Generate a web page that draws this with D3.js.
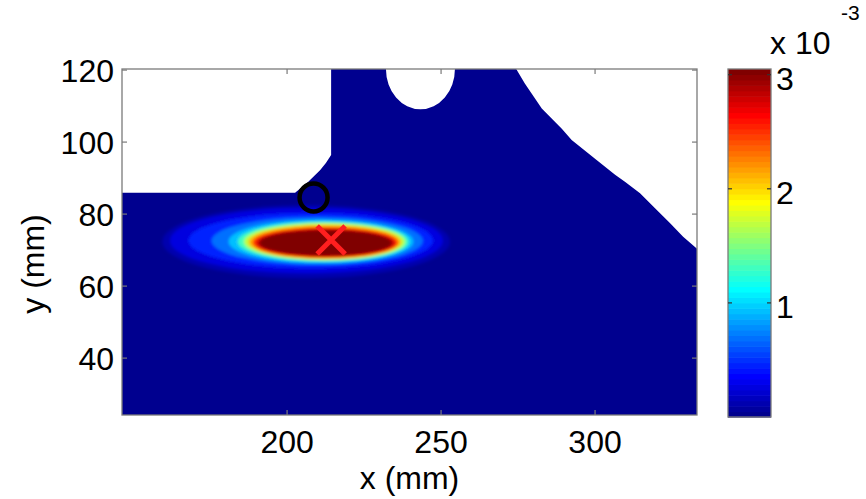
<!DOCTYPE html>
<html>
<head>
<meta charset="utf-8">
<script src="https://cdn.jsdelivr.net/npm/d3@7"></script>
<style>
  body { margin: 0; background: #fff; }
  text { font-family: "Liberation Sans", Arial, sans-serif; fill: #000; }
</style>
</head>
<body>
<svg id="chart" width="866" height="499"></svg>
<script>
// ---- data (mm, values in units of 1e-3) ----
const xTicks = [200, 250, 300];
const yTicks = [40, 60, 80, 100, 120];
const colorTicks = [1, 2, 3];
const xExtent = [146.4, 333.1];
const yExtent = [24.2, 120.3];
const colorMax = 3.05;

// geometry of the solved domain
const shelfY = 85.9;                       // top of the left shelf
const wallX = 214.3;                       // vertical wall above the shelf
const cornerEdge = [[202.6, 85.9], [206.8, 88.9], [210.7, 92.2], [212.6, 94.2], [214.3, 96.4]];
const holeX = 243.3, holeR = 11.2;         // semicircular cut in the top edge
const slopeEdge = [[274.4, 120.3], [277.2, 116.3], [279.4, 113.5], [282.7, 109.3], [289.2, 103.7],
                   [292.4, 100.6], [300.5, 95.0], [306.5, 90.9], [309.7, 89.0], [314.6, 85.8],
                   [318.9, 82.1], [324.3, 77.5], [328.6, 73.7], [333.1, 70.4]];

// iso-level extents of the field
const levelValues = [0.1, 0.25, 0.45, 0.7, 0.95, 1.3, 1.7, 2.1, 2.5, 2.8, 3.1];
const levelX0 = [159.5, 162.0, 168.0, 175.5, 181.0, 184.0, 186.0, 187.5, 188.8, 190.0, 191.0];
const levelX1 = [252.9, 250.6, 247.4, 244.1, 241.0, 239.5, 238.3, 237.0, 236.0, 235.0, 234.0];
const levelY0 = [62.2, 63.6, 65.0, 65.9, 66.4, 66.8, 67.2, 67.5, 67.8, 68.1, 68.4];
const levelY1 = [82.5, 81.7, 80.3, 79.2, 78.4, 77.9, 77.5, 77.0, 76.4, 75.9, 75.6];

const sourceMark = [208.6, 84.6];   // circle
const peakMark = [214.3, 72.8];     // cross

// ---- jet(64) colormap ----
function jetTable(n) {
  const m = Math.ceil(n / 4);
  const u = [];
  for (let k = 1; k <= m; k++) u.push(k / m);
  for (let k = 0; k < m - 1; k++) u.push(1);
  for (let k = m; k >= 1; k--) u.push(k / m);
  const g0 = Math.ceil(n / 8) - (n % 4 === 1 ? 1 : 0);
  const at = k => (k >= 1 && k <= u.length) ? u[k - 1] : 0;
  const out = [];
  for (let i = 1; i <= n; i++) {
    const r = at(i - g0 - m), gg = at(i - g0), b = at(i - g0 + m);
    out.push(d3.rgb(r * 255, gg * 255, b * 255).formatHex());
  }
  return out;
}
const jet = jetTable(64);
const colorOf = v => jet[Math.max(0, Math.min(63, Math.floor(v / colorMax * 64)))];

// ---- layout ----
const svg = d3.select("#chart");
const plot = { left: 122, right: 697, top: 69, bottom: 415 };
const x = d3.scaleLinear().domain(xExtent).range([plot.left, plot.right]);
const y = d3.scaleLinear().domain(yExtent).range([plot.bottom, plot.top]);

// domain outline
function domainPath() {
  const p = d3.path();
  p.moveTo(x(xExtent[0]), y(yExtent[0]));
  p.lineTo(x(xExtent[0]), y(shelfY));
  cornerEdge.forEach(([a, b]) => p.lineTo(x(a), y(b)));
  p.lineTo(x(wallX), y(yExtent[1]));
  p.lineTo(x(holeX - holeR), y(yExtent[1]));
  const rx = x(holeX + holeR) - x(holeX), ry = y(yExtent[1] - holeR) - y(yExtent[1]);
  return p.toString() +
    `A${rx},${ry} 0 0 0 ${x(holeX + holeR)},${y(yExtent[1])}` +
    slopeEdge.map(([a, b]) => `L${x(a)},${y(b)}`).join("") +
    `L${x(xExtent[1])},${y(yExtent[0])}Z`;
}

const defs = svg.append("defs");
defs.append("clipPath").attr("id", "domain").append("path").attr("d", domainPath());
defs.append("filter").attr("id", "soft").attr("x", "-20%").attr("y", "-40%")
  .attr("width", "140%").attr("height", "180%")
  .append("feGaussianBlur").attr("stdDeviation", 1.6);

const field = svg.append("g").attr("clip-path", "url(#domain)");
field.append("rect")
  .attr("x", plot.left).attr("y", plot.top)
  .attr("width", plot.right - plot.left).attr("height", plot.bottom - plot.top)
  .attr("fill", jet[0]);

const blob = field.append("g").attr("filter", "url(#soft)");
blob.selectAll("ellipse").data(levelValues).join("ellipse")
  .attr("cx", (d, i) => (x(levelX0[i]) + x(levelX1[i])) / 2)
  .attr("cy", (d, i) => (y(levelY0[i]) + y(levelY1[i])) / 2)
  .attr("rx", (d, i) => (x(levelX1[i]) - x(levelX0[i])) / 2)
  .attr("ry", (d, i) => (y(levelY0[i]) - y(levelY1[i])) / 2)
  .attr("fill", d => colorOf(d));

// markers
svg.append("circle")
  .attr("cx", x(sourceMark[0])).attr("cy", y(sourceMark[1])).attr("r", 14)
  .attr("fill", "none").attr("stroke", "#000").attr("stroke-width", 4.5);
const cx = x(peakMark[0]), cy = y(peakMark[1]);
svg.append("path")
  .attr("d", `M${cx - 14},${cy - 14}L${cx + 14},${cy + 14}M${cx - 14},${cy + 14}L${cx + 14},${cy - 14}`)
  .attr("stroke", "#ff1f1f").attr("stroke-width", 5).attr("fill", "none");

// axes box and inward ticks
const axisColor = "#7a7a7a";
svg.append("rect")
  .attr("x", plot.left).attr("y", plot.top)
  .attr("width", plot.right - plot.left).attr("height", plot.bottom - plot.top)
  .attr("fill", "none").attr("stroke", axisColor).attr("stroke-width", 1.3);

const tickLen = 5;
const ticks = svg.append("g").attr("stroke", axisColor).attr("stroke-width", 1.2);
xTicks.forEach(t => {
  ticks.append("line").attr("x1", x(t)).attr("x2", x(t)).attr("y1", plot.bottom).attr("y2", plot.bottom - tickLen);
  ticks.append("line").attr("x1", x(t)).attr("x2", x(t)).attr("y1", plot.top).attr("y2", plot.top + tickLen);
});
yTicks.forEach(t => {
  ticks.append("line").attr("y1", y(t)).attr("y2", y(t)).attr("x1", plot.left).attr("x2", plot.left + tickLen);
  ticks.append("line").attr("y1", y(t)).attr("y2", y(t)).attr("x1", plot.right).attr("x2", plot.right - tickLen);
});

const fontSize = 32;
svg.append("g").selectAll("text").data(xTicks).join("text")
  .attr("x", d => x(d)).attr("y", 453)
  .attr("text-anchor", "middle").attr("font-size", fontSize).text(d => d);
svg.append("g").selectAll("text").data(yTicks).join("text")
  .attr("x", 114).attr("y", d => y(d)).attr("dy", "0.36em")
  .attr("text-anchor", "end").attr("font-size", fontSize).text(d => d);

svg.append("text").attr("x", (plot.left + plot.right) / 2).attr("y", 489)
  .attr("text-anchor", "middle").attr("font-size", fontSize).text("x (mm)");
svg.append("text").attr("transform", `translate(44,${(plot.top + plot.bottom) / 2 + 22}) rotate(-90)`)
  .attr("text-anchor", "middle").attr("font-size", fontSize).text("y (mm)");

// colorbar
const cb = { left: 728, right: 771, top: 69, bottom: 417 };
const c = d3.scaleLinear().domain([0, colorMax]).range([cb.bottom, cb.top]);
const band = (cb.bottom - cb.top) / jet.length;
svg.append("g").selectAll("rect").data(jet).join("rect")
  .attr("x", cb.left).attr("width", cb.right - cb.left)
  .attr("y", (d, i) => cb.bottom - (i + 1) * band).attr("height", band + 0.6)
  .attr("fill", d => d);
svg.append("rect")
  .attr("x", cb.left).attr("y", cb.top)
  .attr("width", cb.right - cb.left).attr("height", cb.bottom - cb.top)
  .attr("fill", "none").attr("stroke", axisColor).attr("stroke-width", 1.3);
const cbt = svg.append("g").attr("stroke", "#333").attr("stroke-width", 1.2);
colorTicks.forEach(t => {
  cbt.append("line").attr("x1", cb.left).attr("x2", cb.left + 4).attr("y1", c(t)).attr("y2", c(t));
  cbt.append("line").attr("x1", cb.right).attr("x2", cb.right - 4).attr("y1", c(t)).attr("y2", c(t));
});
svg.append("g").selectAll("text").data(colorTicks).join("text")
  .attr("x", 776).attr("y", d => c(d) + 15)
  .attr("font-size", fontSize).text(d => d);
svg.append("text").attr("x", 770).attr("y", 54).attr("font-size", fontSize).text("x 10");
svg.append("text").attr("x", 841).attr("y", 20).attr("font-size", 21).text("-3");
</script>
</body>
</html>
